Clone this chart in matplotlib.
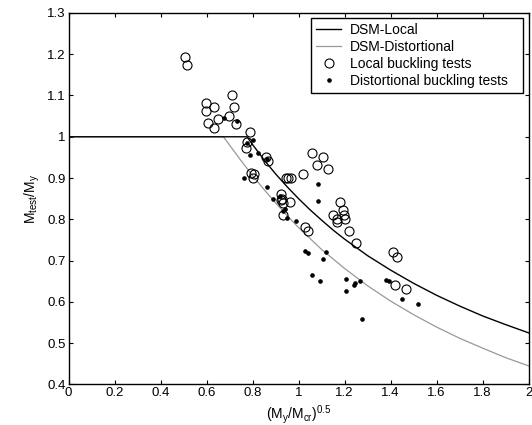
import numpy as np
import matplotlib
matplotlib.use("Agg")
import matplotlib.pyplot as plt
from matplotlib.ticker import FormatStrFormatter

plt.rcParams['font.family'] = ['Liberation Sans', 'DejaVu Sans']
plt.rcParams['mathtext.default'] = 'regular'

# DSM design curves
lam_local = [0.0, 0.776, 0.80, 0.85, 0.90, 0.95, 1.00, 1.05, 1.10, 1.15, 1.20,
             1.25, 1.30, 1.40, 1.50, 1.60, 1.70, 1.80, 1.90, 2.00]
mn_local = [1.0, 1.0, 0.981, 0.944, 0.910, 0.879, 0.850, 0.823, 0.798, 0.774,
            0.752, 0.732, 0.712, 0.677, 0.645, 0.616, 0.590, 0.566, 0.545, 0.525]

lam_dist = [0.0, 0.673, 0.70, 0.75, 0.80, 0.85, 0.90, 0.95, 1.00, 1.10, 1.20,
            1.30, 1.40, 1.50, 1.60, 1.70, 1.80, 1.90, 2.00]
mn_dist = [1.0, 1.0, 0.980, 0.942, 0.906, 0.872, 0.840, 0.809, 0.780, 0.727,
           0.681, 0.639, 0.602, 0.569, 0.539, 0.512, 0.488, 0.465, 0.445]

# test results
local_x = [0.506, 0.515, 0.597, 0.597, 0.634, 0.608, 0.634, 0.649, 0.696, 0.711,
           0.718, 0.727, 0.789, 0.774, 0.770, 0.795, 0.806, 0.803, 0.858, 0.867,
           0.944, 0.956, 0.968, 0.925, 0.928, 0.932, 0.923, 0.963, 0.934, 1.019,
           1.059, 1.080, 1.108, 1.128, 1.029, 1.040, 1.181, 1.149, 1.168, 1.165,
           1.193, 1.199, 1.201, 1.217, 1.251, 1.409, 1.429, 1.420, 1.466]
local_y = [1.193, 1.173, 1.083, 1.062, 1.072, 1.033, 1.021, 1.042, 1.051, 1.100,
           1.072, 1.032, 1.012, 0.987, 0.972, 0.912, 0.911, 0.900, 0.950, 0.942,
           0.900, 0.900, 0.900, 0.861, 0.850, 0.840, 0.846, 0.841, 0.810, 0.910,
           0.961, 0.932, 0.951, 0.921, 0.782, 0.771, 0.842, 0.811, 0.801, 0.793,
           0.822, 0.811, 0.801, 0.772, 0.743, 0.721, 0.710, 0.642, 0.631]

dist_x = [0.676, 0.732, 0.777, 0.801, 0.789, 0.822, 0.863, 0.763, 0.861, 0.889,
          0.917, 0.934, 0.940, 0.948, 0.990, 1.086, 1.086, 1.027, 1.041, 1.119,
          1.105, 1.058, 1.094, 1.206, 1.204, 1.239, 1.245, 1.267, 1.277, 1.379,
          1.394, 1.451, 1.521]
dist_y = [1.046, 1.039, 0.985, 0.993, 0.956, 0.961, 0.945, 0.901, 0.879, 0.850,
          0.856, 0.820, 0.825, 0.804, 0.795, 0.885, 0.845, 0.724, 0.719, 0.721,
          0.705, 0.666, 0.650, 0.656, 0.627, 0.641, 0.646, 0.650, 0.558, 0.653,
          0.651, 0.606, 0.595]

fig = plt.figure(figsize=(5.32, 4.25), dpi=100)
ax = fig.add_axes([0.1288, 0.0953, 0.865, 0.8743])

ax.plot(lam_dist, mn_dist, color='#999999', lw=0.9, label='DSM-Distortional', zorder=2)
ax.plot(lam_local, mn_local, color='black', lw=1.0, label='DSM-Local', zorder=3)
ax.plot(local_x, local_y, 'o', mfc='none', mec='black', mew=0.8, ms=6.5,
        label='Local buckling tests', zorder=4)
ax.plot(dist_x, dist_y, 'o', mfc='black', mec='black', ms=2.3,
        label='Distortional buckling tests', zorder=5)

ax.set_xlim(0, 2)
ax.set_ylim(0.4, 1.3)
ax.set_xticks(np.arange(0, 2.01, 0.2))
ax.set_yticks(np.arange(0.4, 1.301, 0.1))
ax.xaxis.set_major_formatter(FormatStrFormatter('%g'))
ax.yaxis.set_major_formatter(FormatStrFormatter('%g'))
ax.tick_params(direction='in', top=True, right=True, length=3, width=0.8,
               labelsize=9.5, pad=2, colors='black')
for s in ax.spines.values():
    s.set_linewidth(1.0)

ax.set_xlabel(r'$(M_y/M_{cr})^{0.5}$', fontsize=10, labelpad=3)
ax.set_ylabel(r'$M_{test}/M_y$', fontsize=10, labelpad=4)

handles, labels = ax.get_legend_handles_labels()
order = [1, 0, 2, 3]
# legend box stretched to the frame seen in the original
leg = ax.legend([handles[i] for i in order], [labels[i] for i in order],
                loc='upper left', bbox_to_anchor=(0.528, 0.786, 0.46, 0.199),
                mode='expand', fontsize=10, frameon=True, fancybox=False,
                framealpha=1, edgecolor='black', handlelength=1.75,
                handletextpad=0.65, labelspacing=0.2, borderpad=0.35,
                borderaxespad=0)
leg.get_frame().set_linewidth(1.0)

fig.savefig('out.png', dpi=100)
